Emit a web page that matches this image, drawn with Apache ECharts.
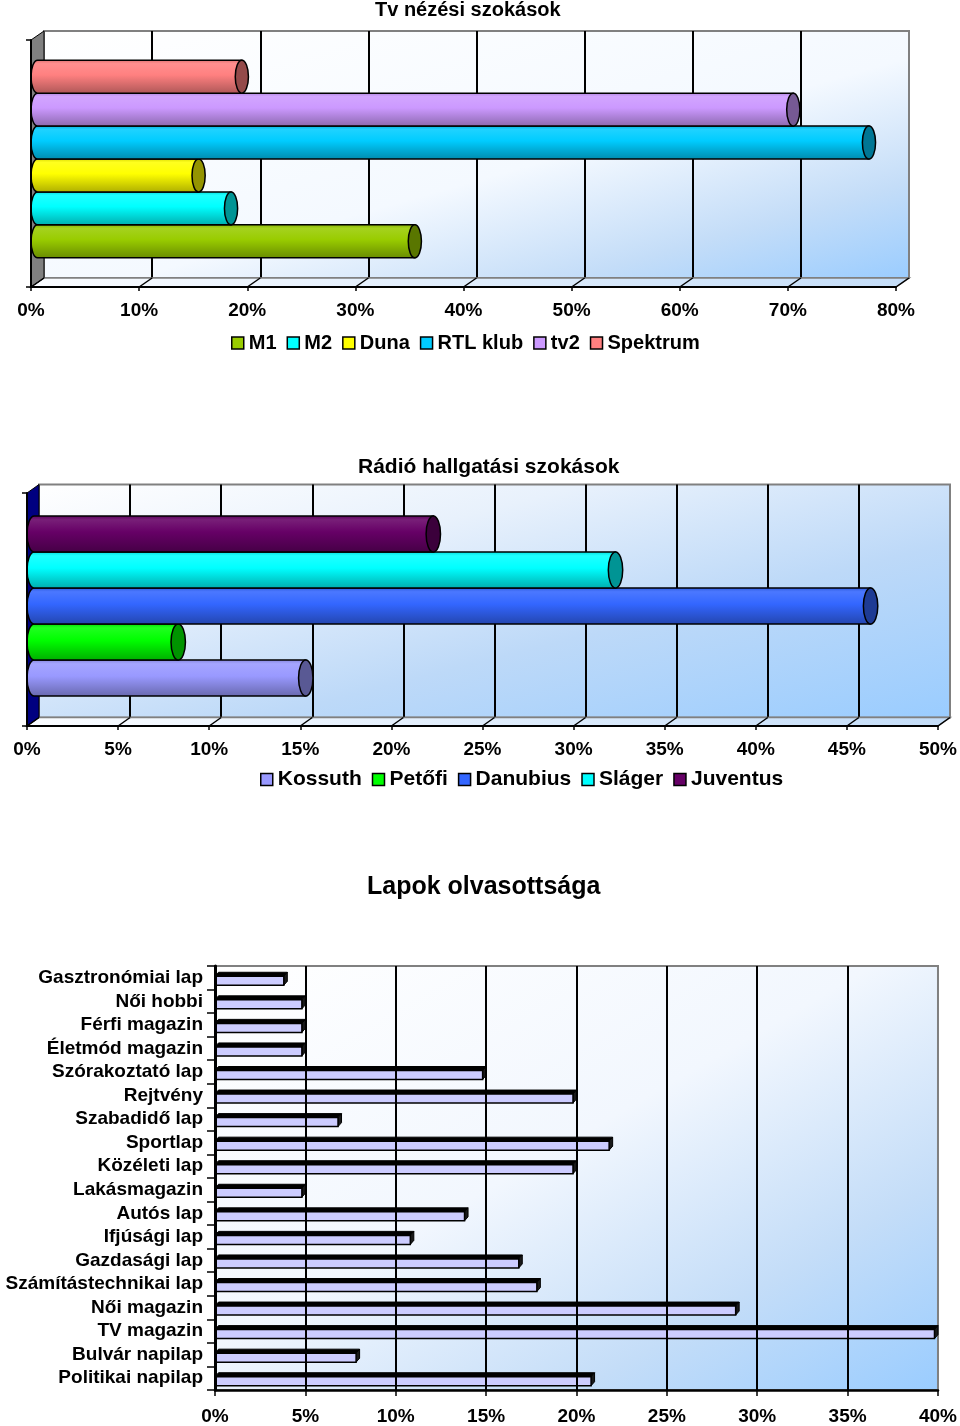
<!DOCTYPE html>
<html><head><meta charset="utf-8">
<script src="https://cdn.jsdelivr.net/npm/echarts@6/dist/echarts.min.js"></script>
<style>html,body{margin:0;padding:0;background:#fff}#c{width:960px;height:1426px}</style>
</head><body><div id="c"></div>
<script>
// ---------- DATA ----------
const tvSeries = ['M1', 'M2', 'Duna', 'RTL klub', 'tv2', 'Spektrum'];
const tvValues = [35.5, 18.5, 15.5, 77.5, 70.5, 19.5];
const tvColors = ['#99CC00', '#00FFFF', '#FFFF00', '#00CCFF', '#CC99FF', '#FF8080'];
const tvTicks = [0, 10, 20, 30, 40, 50, 60, 70, 80];

const radioSeries = ['Kossuth', 'Petőfi', 'Danubius', 'Sláger', 'Juventus'];
const radioValues = [15.3, 8.3, 46.3, 32.3, 22.3];
const radioColors = ['#9999FF', '#00FF00', '#3366FF', '#00FFFF', '#660066'];
const radioTicks = [0, 5, 10, 15, 20, 25, 30, 35, 40, 45, 50];

const paperCategories = ['Gasztronómiai lap', 'Női hobbi', 'Férfi magazin', 'Életmód magazin', 'Szórakoztató lap',
  'Rejtvény', 'Szabadidő lap', 'Sportlap', 'Közéleti lap', 'Lakásmagazin', 'Autós lap', 'Ifjúsági lap',
  'Gazdasági lap', 'Számítástechnikai lap', 'Női magazin', 'TV magazin', 'Bulvár napilap', 'Politikai napilap'];
const paperValues = [4, 5, 5, 5, 15, 20, 7, 22, 20, 5, 14, 11, 17, 18, 29, 40, 8, 21];
const paperTicks = [0, 5, 10, 15, 20, 25, 30, 35, 40];

// ---------- HELPERS ----------
const FONT = 'Liberation Sans, Arial, sans-serif';
function hexToRgb(h) { h = h.replace('#', ''); return [0, 2, 4].map(i => parseInt(h.substr(i, 2), 16)); }
function mix(hex, target, f) {
  const c = hexToRgb(hex);
  return 'rgb(' + c.map(v => Math.round(v + (target - v) * f)).join(',') + ')';
}
function shade(hex, f) { return mix(hex, 0, 1 - f); }
function tint(hex, f) { return mix(hex, 255, f); }
function diagGrad(W, H, stops) {
  const s = H * H + W * W;
  return new echarts.graphic.LinearGradient(0, 0, 2 * H * H / s, 2 * W * W / s,
    stops.map(p => ({ offset: p[0], color: p[1] })));
}

function cylRender(k, n, fill, color) {
  return function (params, api) {
    const v = api.value(0), c = api.value(1);
    const p0 = api.coord([0, c]);
    const p1 = api.coord([v, c]);
    const band = api.size([0, 1])[1];
    const total = band * fill;
    const h = total / n;
    const yt = p0[1] + total / 2 - (k + 1) * h;
    const yb = yt + h, ym = yt + h / 2;
    const rx = h * 0.2, ry = h / 2;
    const x0 = p0[0] + rx, x1 = p1[0];
    const bodyFill = new echarts.graphic.LinearGradient(0, 0, 0, 1, [
      { offset: 0, color: shade(color, 0.85) },
      { offset: 0.12, color: tint(color, 0.12) },
      { offset: 0.45, color: color },
      { offset: 1, color: shade(color, 0.68) }
    ]);
    const body = 'M' + x0 + ' ' + yt + ' L' + x1 + ' ' + yt +
      ' L' + x1 + ' ' + yb + ' L' + x0 + ' ' + yb +
      ' A' + rx + ' ' + ry + ' 0 0 1 ' + x0 + ' ' + yt + ' Z';
    const cap = 'M' + (x1 - rx) + ' ' + ym + ' A' + rx + ' ' + ry + ' 0 1 0 ' + (x1 + rx) + ' ' + ym +
      ' A' + rx + ' ' + ry + ' 0 1 0 ' + (x1 - rx) + ' ' + ym + ' Z';
    return {
      type: 'group', children: [
        { type: 'path', shape: { pathData: body }, style: { fill: bodyFill, stroke: '#000', lineWidth: 1.5 } },
        { type: 'path', shape: { pathData: cap }, style: { fill: shade(color, 0.58), stroke: '#000', lineWidth: 1.5 } }
      ]
    };
  };
}

function decorRender(dx, dy, wallColor) {
  return function (params, api) {
    const cs = params.coordSys;
    const v = api.value(0);
    const px = api.coord([v, 0])[0];
    const bottom = cs.y + cs.height;
    const children = [];
    if (params.dataIndex === 0) {
      children.push({
        type: 'polygon',
        shape: { points: [[cs.x, bottom], [cs.x + cs.width, bottom], [cs.x + cs.width + dx, bottom - dy], [cs.x + dx, bottom - dy]] },
        style: {
          fill: new echarts.graphic.LinearGradient(0, 0, 1, 0, [{ offset: 0, color: '#FAFCFF' }, { offset: 1, color: '#C4DDF8' }]),
          stroke: '#808080', lineWidth: 1.5
        }
      });
      children.push({
        type: 'polygon',
        shape: { points: [[cs.x, cs.y], [cs.x + dx, cs.y - dy], [cs.x + dx, bottom - dy], [cs.x, bottom]] },
        style: { fill: wallColor, stroke: '#000', lineWidth: 1 }
      });
    }
    children.push({ type: 'line', shape: { x1: px, y1: bottom, x2: px + dx, y2: bottom - dy }, style: { stroke: '#000', lineWidth: 1.5 } });
    return { type: 'group', children: children };
  };
}

function paperRender(params, api) {
  const v = api.value(0), c = api.value(1);
  const p0 = api.coord([0, c]), p1 = api.coord([v, c]);
  const d = 3.5, fh = 9;
  const yf = p0[1] - 1.5;
  const x0 = p0[0], x1 = p1[0] - d;
  return {
    type: 'group', children: [
      { type: 'polygon', shape: { points: [[x0, yf], [x1, yf], [x1 + d, yf - 4], [x0 + d, yf - 4]] }, style: { fill: '#000', stroke: '#000', lineWidth: 1 } },
      { type: 'polygon', shape: { points: [[x1, yf], [x1 + d, yf - 4], [x1 + d, yf + fh - 4], [x1, yf + fh]] }, style: { fill: '#1a1a1a', stroke: '#000', lineWidth: 1 } },
      { type: 'rect', shape: { x: x0, y: yf, width: x1 - x0, height: fh }, style: { fill: '#CCCCFF', stroke: '#000', lineWidth: 1.5 } }
    ]
  };
}

// ---------- LAYOUT ----------
const c1 = { l: 31, t: 40, w: 865, h: 247, dx: 13, dy: 9, barTop: 35.5, fill: 0.8 };
const c2 = { l: 27, t: 493, w: 911, h: 233, dx: 12, dy: 8.5, barTop: 489.5, fill: 0.773 };
const c3 = { l: 215, t: 966, w: 728, h: 424 };

const gradStops1 = [[0, '#FFFFFF'], [0.55, '#F4F9FF'], [0.8, '#C4DDF8'], [1, '#99CCFF']];
const gradStops2 = [[0, '#FFFFFF'], [0.3, '#E8F1FC'], [0.62, '#BDD9F8'], [1, '#99CCFF']];
const gradStops3 = [[0, '#FFFFFF'], [0.45, '#F2F7FE'], [0.75, '#C4DDF8'], [1, '#99CCFF']];

function grids(c, gs) {
  return [
    { left: c.l + c.dx, top: c.t - c.dy, width: c.w, height: c.h, show: true, backgroundColor: diagGrad(c.w, c.h, gs), borderColor: '#808080', borderWidth: 2, z: 0 },
    { left: c.l, top: c.barTop, width: c.w, height: c.h },
    { left: c.l, top: c.t, width: c.w, height: c.h }
  ];
}
function xAxes(gi, ticks) {
  const min = ticks[0], max = ticks[ticks.length - 1], interval = ticks[1] - ticks[0];
  return [
    { type: 'value', gridIndex: gi, min, max, interval, axisLine: { show: false }, axisTick: { show: false }, axisLabel: { show: false },
      splitLine: { show: true, showMinLine: false, showMaxLine: false, lineStyle: { color: '#000', width: 2 } } },
    { type: 'value', gridIndex: gi + 1, min, max, interval, show: false },
    { type: 'value', gridIndex: gi + 2, min, max, interval, z: 5,
      axisLine: { show: true, lineStyle: { color: '#000', width: 2 } },
      axisTick: { show: true, length: 4, lineStyle: { color: '#000', width: 1.5 } },
      splitLine: { show: false },
      axisLabel: { formatter: '{value}%', margin: 14, color: '#000', fontFamily: FONT, fontWeight: 'bold', fontSize: 19 } }
  ];
}
function yAxes(gi) {
  return [
    { type: 'category', gridIndex: gi, data: [''], show: false },
    { type: 'category', gridIndex: gi + 1, data: [''], show: false },
    { type: 'category', gridIndex: gi + 2, data: [''], z: 5,
      axisLine: { show: true, lineStyle: { color: '#000', width: 2 } },
      axisTick: { show: true, length: 5, lineStyle: { color: '#000', width: 1.5 } },
      axisLabel: { show: false } }
  ];
}

const series = [];
tvSeries.forEach((name, k) => {
  series.push({ type: 'custom', name, xAxisIndex: 1, yAxisIndex: 1, z: 3, itemStyle: { color: tvColors[k] },
    data: [[tvValues[k], 0]], encode: { x: 0, y: 1 }, renderItem: cylRender(k, tvSeries.length, c1.fill, tvColors[k]) });
});
series.push({ type: 'custom', name: 'decor1', xAxisIndex: 2, yAxisIndex: 2, z: 1, silent: true,
  data: tvTicks.map(t => [t, 0]), encode: { x: 0, y: 1 }, renderItem: decorRender(c1.dx, c1.dy, '#808080') });

radioSeries.forEach((name, k) => {
  series.push({ type: 'custom', name, xAxisIndex: 4, yAxisIndex: 4, z: 3, itemStyle: { color: radioColors[k] },
    data: [[radioValues[k], 0]], encode: { x: 0, y: 1 }, renderItem: cylRender(k, radioSeries.length, c2.fill, radioColors[k]) });
});
series.push({ type: 'custom', name: 'decor2', xAxisIndex: 5, yAxisIndex: 5, z: 1, silent: true,
  data: radioTicks.map(t => [t, 0]), encode: { x: 0, y: 1 }, renderItem: decorRender(c2.dx, c2.dy, '#000080') });

series.push({ type: 'custom', name: 'Lapok', xAxisIndex: 6, yAxisIndex: 6, z: 3, itemStyle: { color: '#CCCCFF' },
  data: paperValues.map((v, i) => [v, i]), encode: { x: 0, y: 1 }, renderItem: paperRender });

const legendCommon = { icon: 'rect', itemWidth: 12, itemHeight: 12, itemGap: 10, orient: 'horizontal',
  itemStyle: { borderColor: '#000', borderWidth: 1.5 },
  textStyle: { color: '#000', fontFamily: FONT, fontWeight: 'bold' }, selectedMode: false };

const option = {
  animation: false,
  title: [
    { text: 'Tv nézési szokások', left: 370, top: -5, textStyle: { fontFamily: FONT, fontWeight: 'bold', fontSize: 20, color: '#000' } },
    { text: 'Rádió hallgatási szokások', left: 353, top: 452, textStyle: { fontFamily: FONT, fontWeight: 'bold', fontSize: 21, color: '#000' } },
    { text: 'Lapok olvasottsága', left: 362, top: 870, textStyle: { fontFamily: FONT, fontWeight: 'bold', fontSize: 25, color: '#000' } }
  ],
  legend: [
    Object.assign({}, legendCommon, { data: tvSeries, left: 226, top: 328, textStyle: Object.assign({}, legendCommon.textStyle, { fontSize: 20 }) }),
    Object.assign({}, legendCommon, { data: radioSeries, left: 255, top: 764, textStyle: Object.assign({}, legendCommon.textStyle, { fontSize: 21 }) })
  ],
  grid: [].concat(grids(c1, gradStops1), grids(c2, gradStops2), [
    { left: c3.l, top: c3.t, width: c3.w, height: c3.h, show: true, backgroundColor: diagGrad(c3.w, c3.h, gradStops3), borderColor: '#808080', borderWidth: 2 }
  ]),
  xAxis: [].concat(xAxes(0, tvTicks), xAxes(3, radioTicks), [
    { type: 'value', gridIndex: 6, min: paperTicks[0], max: paperTicks[paperTicks.length - 1], interval: paperTicks[1] - paperTicks[0], z: 5,
      axisLine: { show: true, lineStyle: { color: '#000', width: 2.5 } },
      axisTick: { show: true, length: 6, lineStyle: { color: '#000', width: 1.5 } },
      splitLine: { show: true, showMinLine: false, showMaxLine: false, lineStyle: { color: '#000', width: 2 } },
      axisLabel: { formatter: '{value}%', margin: 17, color: '#000', fontFamily: FONT, fontWeight: 'bold', fontSize: 19 } }
  ]),
  yAxis: [].concat(yAxes(0), yAxes(3), [
    { type: 'category', gridIndex: 6, data: paperCategories, inverse: true, z: 5,
      axisLine: { show: true, lineStyle: { color: '#000', width: 3 } },
      axisTick: { show: true, length: 8, lineStyle: { color: '#000', width: 1.5 } },
      axisLabel: { margin: 12, color: '#000', fontFamily: FONT, fontWeight: 'bold', fontSize: 19, interval: 0 } }
  ]),
  series
};

const chart = echarts.init(document.getElementById('c'), null, { renderer: 'canvas', width: 960, height: 1426 });
chart.setOption(option);
</script></body></html>
